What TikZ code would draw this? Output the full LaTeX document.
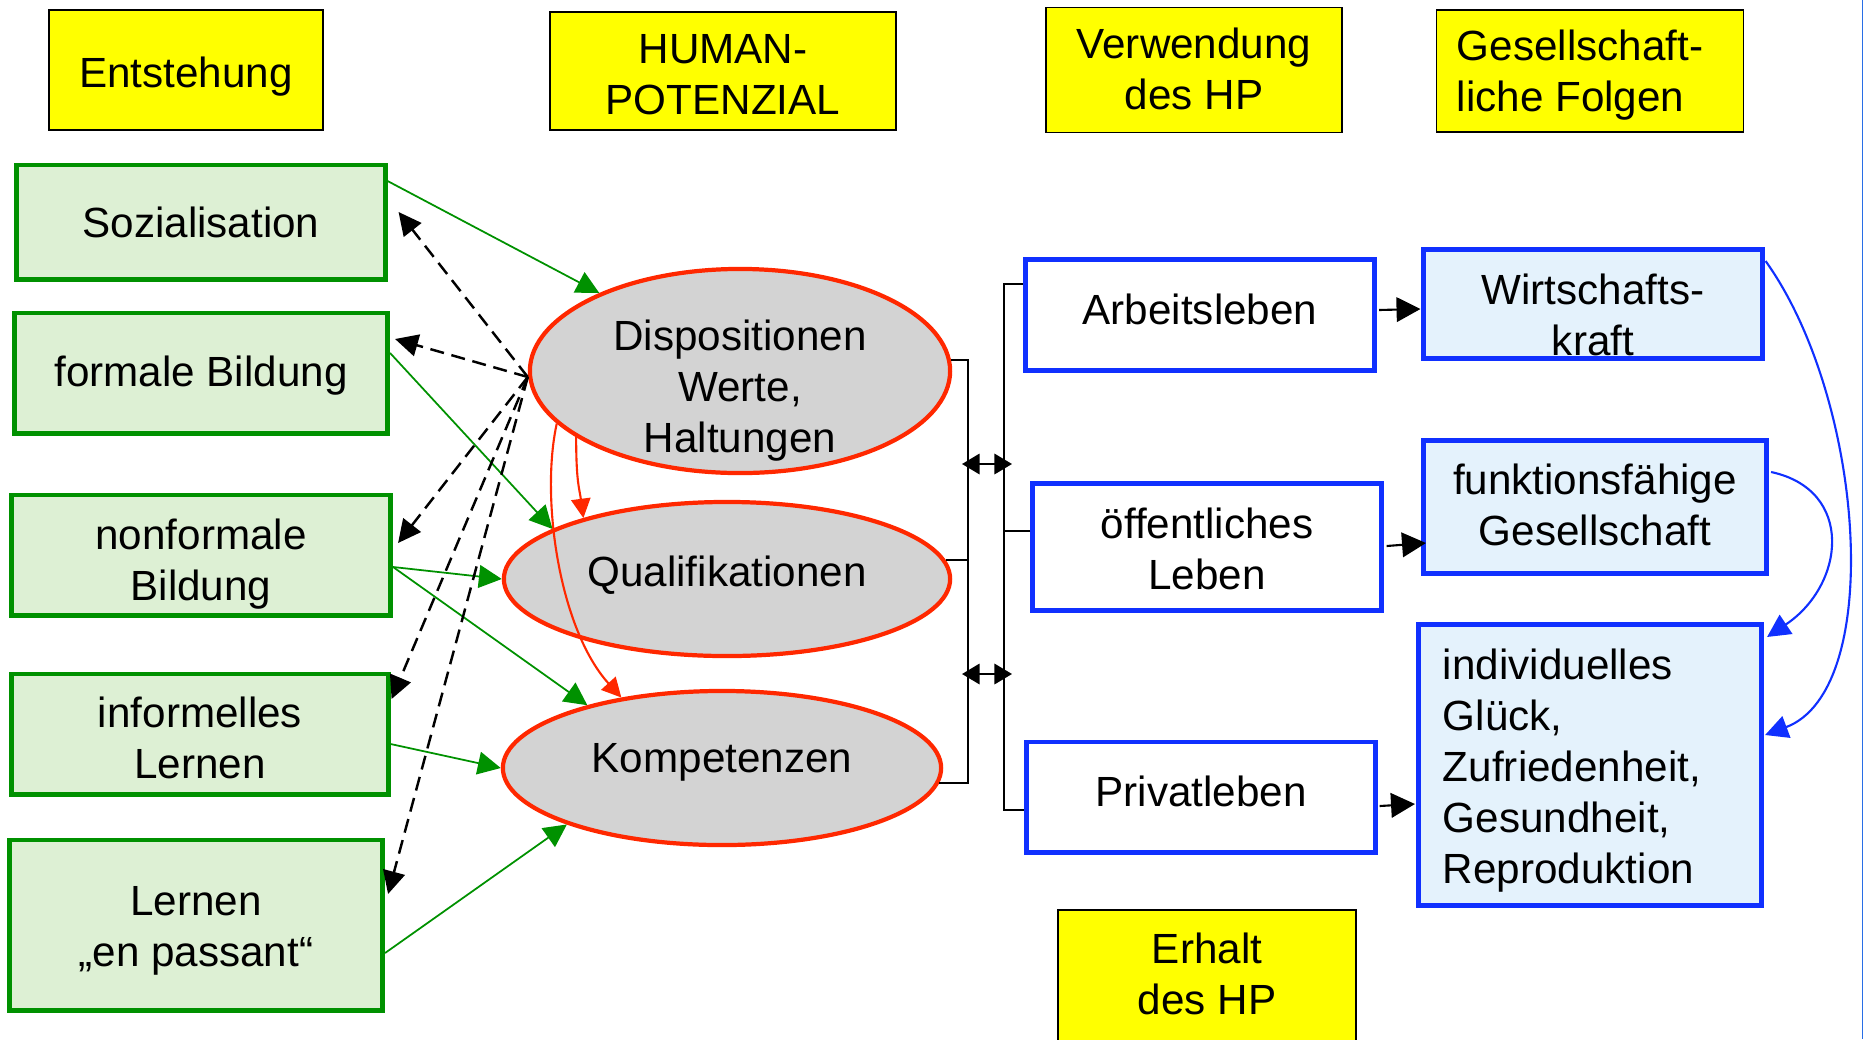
\documentclass[tikz,border=0pt]{standalone}
\usepackage{fontspec}
\setmainfont{Liberation Sans}
\usetikzlibrary{arrows.meta,calc,shapes.geometric}

\definecolor{hpyellow}{RGB}{255,255,0}
\definecolor{srcgreen}{RGB}{0,145,0}
\definecolor{srcfill}{RGB}{221,240,212}
\definecolor{hpred}{RGB}{255,40,0}
\definecolor{hpgray}{RGB}{211,211,211}
\definecolor{useblue}{RGB}{16,48,255}
\definecolor{reslight}{RGB}{228,242,252}
\definecolor{edgeblue}{RGB}{40,110,230}

% text lowered so that its last baseline sits #1 below the node centre
\newcommand\lowc[2]{\raisebox{-#1}[0pt][0pt]{\begin{tabular}[b]{@{}c@{}}#2\end{tabular}}}
\newcommand\lowl[3]{\raisebox{-#1}[0pt][0pt]{\begin{tabular}[b]{@{}l@{\hspace{#2}}}#3\end{tabular}}}

\tikzset{
  headbox/.style={draw=black, line width=0.5pt, fill=hpyellow, inner sep=0pt},
  sourcebox/.style={draw=srcgreen, line width=1.4pt, fill=srcfill, inner sep=0pt},
  hpellipse/.style={ellipse, draw=hpred, line width=1.2pt, fill=hpgray, inner sep=0pt},
  usebox/.style={draw=useblue, line width=1.4pt, fill=white, inner sep=0pt},
  resultbox/.style={usebox, fill=reslight},
  greenarrow/.style={draw=srcgreen, line width=0.5pt, -{Triangle[length=6.5pt,width=6.5pt]}},
  dasharrow/.style={draw=black, line width=0.7pt, dash pattern=on 4pt off 2.2pt, -{Triangle[length=6.5pt,width=6.3pt]}},
  redarrow/.style={draw=hpred, line width=0.6pt, -{Triangle[length=5.5pt,width=5.5pt]}},
  blackarrow/.style={draw=black, line width=0.6pt, -{Triangle[length=6.8pt,width=7pt]}},
  dblarrow/.style={draw=black, line width=0.6pt, {Triangle[length=5pt,width=5.8pt]}-{Triangle[length=5pt,width=5.8pt]}},
  bluearrow/.style={draw=useblue, line width=0.6pt, -{Triangle[length=6.5pt,width=6.5pt]}},
  bracket/.style={draw=black, line width=0.6pt}
}

\begin{document}
\begin{tikzpicture}[x=0.01cm, y=-0.01cm, font=\fontsize{12}{14.5}\selectfont]
\useasboundingbox (0,0) rectangle (1864,1039);

% column headers
\node[headbox, minimum width=2.74cm, minimum height=1.2cm] (entst) at (186,70) {\lowc{0.175cm}{Entstehung}};
\node[headbox, minimum width=3.46cm, minimum height=1.18cm] (human) at (723,71) {\lowc{0.43cm}{HUMAN-\\POTENZIAL}};
\node[headbox, minimum width=2.96cm, minimum height=1.25cm] (verw) at (1194,70) {\lowc{0.39cm}{Verwendung\\des HP}};
\node[headbox, minimum width=3.07cm, minimum height=1.22cm] (folgen) at (1590,71) {\lowl{0.4cm}{0.2cm}{Gesellschaft-\\liche Folgen}};
\node[headbox, minimum width=2.98cm, minimum height=1.4cm] (erhalt) at (1207,980) {\lowc{0.34cm}{Erhalt\\des HP}};

% sources on the left
\node[sourcebox, minimum width=3.68cm, minimum height=1.14cm] (soz) at (201,222) {\lowc{0.15cm}{Sozialisation}};
\node[sourcebox, minimum width=3.73cm, minimum height=1.2cm] (formal) at (201,373) {\lowc{0.13cm}{formale Bildung}};
\node[sourcebox, minimum width=3.79cm, minimum height=1.2cm] (nonformal) at (201,555) {\lowc{0.45cm}{nonformale\\Bildung}};
\node[sourcebox, minimum width=3.76cm, minimum height=1.2cm] (informell) at (200,734) {\lowc{0.44cm}{informelles\\Lernen}};
\node[sourcebox, minimum width=3.73cm, minimum height=1.7cm] (passant) at (196,925) {\lowc{0.41cm}{Lernen\\„en passant“}};

% the human potential
\node[hpellipse, minimum width=4.2cm, minimum height=2.04cm] (disp) at (740,371) {\lowc{0.81cm}{Dispositionen\\Werte,\\Haltungen}};
\node[hpellipse, minimum width=4.46cm, minimum height=1.54cm] (qual) at (727,579) {\lowc{0.07cm}{Qualifikationen}};
\node[hpellipse, minimum width=4.38cm, minimum height=1.54cm] (komp) at (722,768) {\lowc{0.04cm}{Kompetenzen}};

% where it is used
\node[usebox, minimum width=3.49cm, minimum height=1.11cm] (arbeit) at (1200,315) {\lowc{0.09cm}{Arbeitsleben}};
\node[usebox, minimum width=3.48cm, minimum height=1.27cm] (oeff) at (1207,547) {\lowc{0.42cm}{öffentliches\\Leben}};
\node[usebox, minimum width=3.48cm, minimum height=1.1cm] (privat) at (1201,797) {\lowc{0.09cm}{Privatleben}};

% what follows for society
\node[resultbox, minimum width=3.38cm, minimum height=1.09cm] (wirt) at (1593,304) {\lowc{0.51cm}{Wirtschafts-\\kraft}};
\node[resultbox, minimum width=3.43cm, minimum height=1.33cm] (funk) at (1595,507) {\lowc{0.38cm}{funktionsfähige\\Gesellschaft}};
\node[resultbox, minimum width=3.43cm, minimum height=2.81cm] (indiv) at (1590,765) {\lowl{1.18cm}{0.36cm}{individuelles\\Glück,\\Zufriedenheit,\\Gesundheit,\\Reproduktion}};

% green arrows into the ellipses
\draw[greenarrow] ($(soz.east)+(0,-41)$) -- (disp.151);
\draw[greenarrow] ($(formal.east)+(0,-20)$) -- (qual.164);
\draw[greenarrow] ($(nonformal.east)+(0,12)$) -- (qual.west);
\draw[greenarrow] ($(nonformal.east)+(0,12)$) -- (komp.155);
\draw[greenarrow] ($(informell.east)+(0,10)$) -- (komp.west);
\draw[greenarrow] ($(passant.east)+(0,28)$) -- (komp.200);

% dashed arrows back to the sources
\coordinate (dsrc) at ($(disp.west)+(0,6)$);
\foreach \n/\dx/\dy in {soz/11/-10, formal/5/-34, nonformal/5/-12, informell/1/-35, passant/3/-31}
\draw[dasharrow] (dsrc) -- ($(\n.east)+(\dx,\dy)$);

% red arrows between the ellipses
\draw[redarrow] (disp.202) .. controls ($(disp.202)+(0,45)$) and ($(qual.157)+(-4,-30)$) .. (qual.157);
\draw[redarrow] (disp.196) .. controls (540,500) and (560,630) .. (komp.145);

% brackets and double arrows
\coordinate (lb) at (968,0);
\draw[bracket] (disp.3) -| (lb |- komp.-4) -- (komp.-4);
\draw[bracket] (qual.5) -- (qual.5 -| lb);
\draw[bracket] ($(arbeit.west)+(0,-31)$) -- ++(-19,0) |- ($(privat.west)+(0,13)$);
\draw[bracket] ($(oeff.west)+(0,-16)$) -- ++(-26,0);
\foreach \y in {464,674}
\draw[dblarrow] (962,\y) -- (1012,\y);

% black arrows to the consequences
\draw[blackarrow] ($(arbeit.east)+(2,-5)$) -- ($(wirt.west)+(-1,5)$);
\draw[blackarrow] ($(oeff.east)+(3,-1)$) -- ($(funk.west)+(5,36)$);
\draw[blackarrow] ($(privat.east)+(2,9)$) -- ($(indiv.west)+(-1,39)$);

% blue curved arrows
\draw[bluearrow] ($(wirt.north east)+(1,14)$) .. controls (1865,400) and (1885,690) .. ($(indiv.east)+(1,-30)$);
\draw[bluearrow] ($(funk.east)+(2,-35)$) .. controls (1855,490) and (1845,585) .. ($(indiv.north east)+(3,15)$);

% right edge
\draw[edgeblue, line width=0.4pt] (1862.5,0) -- (1862.5,1039);
\end{tikzpicture}
\end{document}
